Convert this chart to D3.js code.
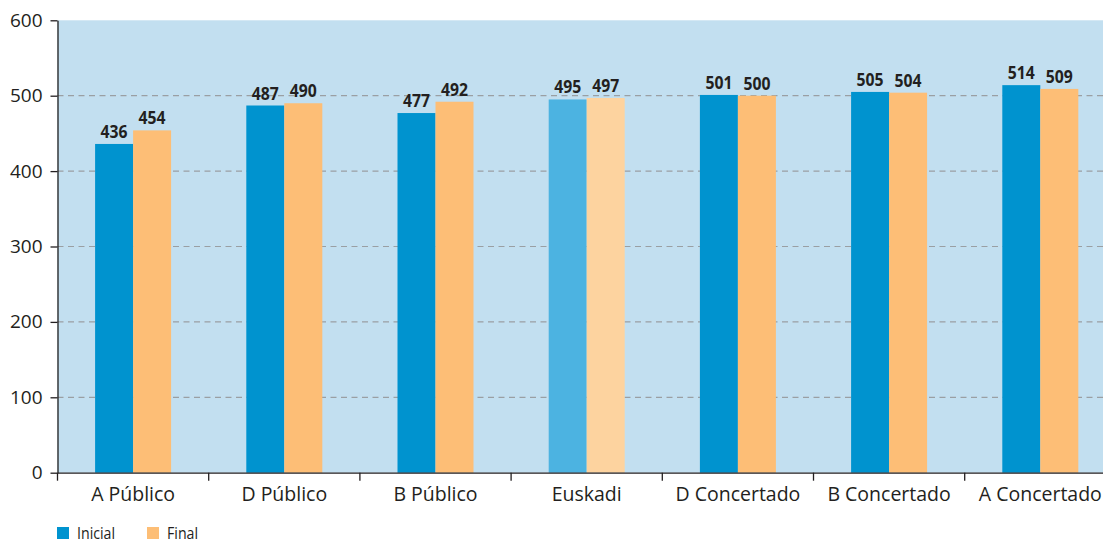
<!DOCTYPE html>
<html><head><meta charset="utf-8">
<script src="https://cdn.jsdelivr.net/npm/d3@7"></script>
<style>body{margin:0;background:#fff}svg{display:block}</style>
</head><body><svg id="c" width="1103" height="544"></svg>
<script>
const categories = ["A Público","D Público","B Público","Euskadi","D Concertado","B Concertado","A Concertado"];
const inicial = [436,487,477,495,501,505,514];
const finalV = [454,490,492,497,500,504,509];
const seriesNames = ["Inicial","Final"];
const yTicks = [0,100,200,300,400,500,600];

const svg = d3.select("#c");
const W = 1103, H = 544;
const plotL = 57.5, plotT = 20.3, plotB = 472.7, band = 151.2;
const x = d3.scaleBand().domain(categories).range([plotL, plotL + band*categories.length]).paddingInner(0).paddingOuter(0);
const y = d3.scaleLinear().domain([0,600]).range([plotB, plotT]);
const bw = 38;
const colors = {Inicial:"#0093cf", Final:"#fdbe76"};
const hiColors = {Inicial:"#4cb3e1", Final:"#fdd39f"};
const ink = "#231f20";
const cond = "'Open Sans',sans-serif";

svg.append("rect").attr("x",plotL).attr("y",plotT).attr("width",W-plotL).attr("height",plotB-plotT).attr("fill","#c2dff0");

// grid
svg.append("g").selectAll("line").data(yTicks.filter(d=>d>0&&d<600)).join("line")
  .attr("x1",plotL).attr("x2",W).attr("y1",d=>y(d)).attr("y2",d=>y(d))
  .attr("stroke","#9a9fa3").attr("stroke-width",1.2).attr("stroke-dasharray","6,4.5");

const data = categories.map((c,i)=>({c, vals:[{s:"Inicial",v:inicial[i]},{s:"Final",v:finalV[i]}]}));
const g = svg.append("g");
data.forEach(d=>{
  const cx = x(d.c)+x.bandwidth()/2;
  d.vals.forEach((e,j)=>{
    const x0 = cx - bw + j*bw;
    const col = d.c==="Euskadi" ? hiColors[e.s] : colors[e.s];
    g.append("rect").attr("x",x0).attr("y",y(e.v)).attr("width",bw).attr("height",plotB-y(e.v)).attr("fill",col);
    const t = String(e.v);
    g.append("text").attr("x",x0+bw/2-13.5).attr("y",y(e.v)-6)
      .attr("font-family",cond).attr("font-weight","bold")
      .attr("font-size",18.5).attr("fill",ink)
      .attr("textLength",27).attr("lengthAdjust","spacingAndGlyphs").text(t);
  });
});

// y axis
const ya = svg.append("g").attr("transform",`translate(${plotL},0)`)
  .call(d3.axisLeft(y).tickValues(yTicks).tickSize(7).tickPadding(8).tickSizeOuter(0));
ya.select(".domain").attr("stroke",ink).attr("stroke-width",1.3);
ya.selectAll(".tick line").attr("stroke",ink).attr("stroke-width",1.3);
ya.selectAll("text").attr("font-family","'Open Sans',sans-serif").attr("font-size",19).attr("fill",ink);

// x axis
const xa = svg.append("g").attr("transform",`translate(0,${plotB})`)
  .call(d3.axisBottom(x).tickSize(0).tickPadding(14).tickSizeOuter(0));
xa.select(".domain").attr("stroke",ink).attr("stroke-width",1.3);
xa.selectAll("text").attr("font-family","'Open Sans',sans-serif").attr("font-size",19.5).attr("fill",ink);
svg.append("g").selectAll("line").data(categories).join("line")
  .attr("x1",d=>x(d)).attr("x2",d=>x(d)).attr("y1",plotB).attr("y2",plotB+8)
  .attr("stroke",ink).attr("stroke-width",1.3);

// legend
const lg = svg.append("g");
const lx = [57, 147];
const lw = [38, 31];
seriesNames.forEach((s,i)=>{
  lg.append("rect").attr("x",lx[i]).attr("y",527).attr("width",12).attr("height",12).attr("fill",colors[s]);
  lg.append("text").attr("x",lx[i]+20).attr("y",539).attr("font-family",cond)
    .attr("font-size",16).attr("fill",ink).attr("textLength",lw[i]).attr("lengthAdjust","spacingAndGlyphs").text(s);
});
</script></body></html>
